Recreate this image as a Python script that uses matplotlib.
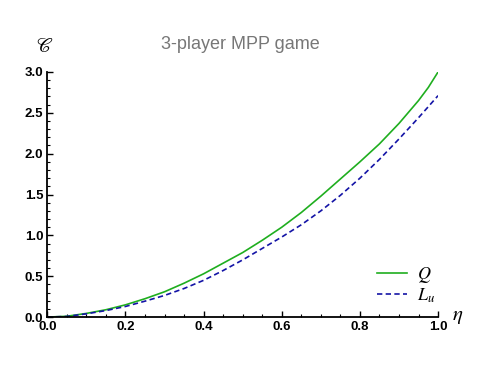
import numpy as np
import matplotlib.pyplot as plt
from matplotlib.ticker import MultipleLocator

plt.rcParams['mathtext.fontset'] = 'stix'

# values
eta = [0.0, 0.05, 0.1, 0.15, 0.2, 0.25, 0.3, 0.35, 0.4, 0.45, 0.5,
       0.55, 0.6, 0.65, 0.7, 0.75, 0.8, 0.85, 0.9, 0.95, 0.975, 1.0]
c_q = [0.0, 0.01, 0.045, 0.09, 0.15, 0.225, 0.31, 0.415, 0.53, 0.66, 0.79,
       0.94, 1.10, 1.28, 1.48, 1.69, 1.90, 2.12, 2.37, 2.65, 2.81, 3.0]
c_lu = [0.0, 0.008, 0.04, 0.08, 0.13, 0.195, 0.265, 0.35, 0.45, 0.57, 0.70,
        0.84, 0.98, 1.13, 1.30, 1.49, 1.70, 1.93, 2.18, 2.44, 2.575, 2.71]

fig = plt.figure(figsize=(4.83, 3.67), dpi=100)
ax = fig.add_axes([0.098, 0.136, 0.809, 0.668])

ax.plot(eta, c_q, color='#1fae1f', lw=1.2, label='$Q$')
ax.plot(eta, c_lu, color='#1414a6', lw=1.2, dashes=(3.2, 2.0), label='$L_u$')

ax.set_xlim(0, 1)
ax.set_ylim(0, 3)
ax.xaxis.set_major_locator(MultipleLocator(0.2))
ax.xaxis.set_minor_locator(MultipleLocator(0.05))
ax.yaxis.set_major_locator(MultipleLocator(0.5))
ax.yaxis.set_minor_locator(MultipleLocator(0.1))
ax.tick_params(which='major', direction='in', length=4, width=1, pad=3)
ax.tick_params(which='minor', direction='in', length=2.3, width=0.8)
for lab in ax.get_xticklabels() + ax.get_yticklabels():
    lab.set_fontfamily('Liberation Sans')
    lab.set_fontweight('bold')
    lab.set_fontsize(9.5)
ax.spines['top'].set_visible(False)
ax.spines['right'].set_visible(False)
ax.spines['left'].set_linewidth(1.3)
ax.spines['bottom'].set_linewidth(1.3)

fig.text(0.497, 0.880, '3-player MPP game', ha='center', va='center',
         fontsize=13, color='#777777', family='Liberation Sans')
fig.text(0.093, 0.872, r'$\mathscr{C}$', ha='center', va='center', fontsize=14)
fig.text(0.948, 0.138, r'$\eta$', ha='center', va='center', fontsize=15)

ax.legend(loc='lower right', frameon=False, fontsize=13, handlelength=1.7,
          handletextpad=0.55, labelspacing=0.05, bbox_to_anchor=(1.035, -0.015))

fig.savefig('out.png', dpi=100)
